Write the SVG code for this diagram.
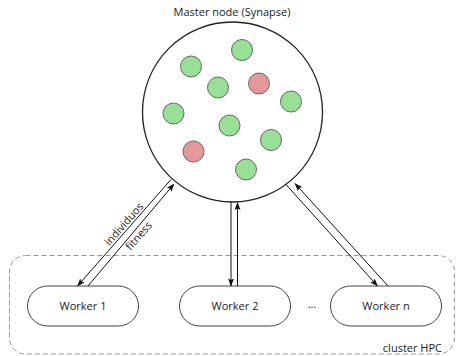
<svg xmlns="http://www.w3.org/2000/svg" width="456" height="356" viewBox="0 0 456 356">
  <style>
    .lbl { font-family: "Open Sans", "Liberation Sans", sans-serif; font-size: 11px; fill: #222; }
    .mid { text-anchor: middle; }
    .ind-g { fill: #98e095; stroke: #666; stroke-width: 1; }
    .ind-r { fill: #e59899; stroke: #666; stroke-width: 1; }
    .worker { fill: #fff; stroke: #444; stroke-width: 1; }
    .edge { stroke: #111; stroke-width: 1; fill: none; marker-end: url(#arrow); }
  </style>
  <defs>
    <marker id="arrow" viewBox="0 0 8 8" refX="7.5" refY="4" markerWidth="8" markerHeight="8" markerUnits="userSpaceOnUse" orient="auto">
      <path d="M0,1 L8,4 L0,7 L1.5,4 Z" fill="#111"/>
    </marker>
  </defs>

  <rect width="456" height="356" fill="#fff"/>

  <!-- cluster boundary -->
  <g id="cluster">
    <rect x="9.5" y="255.5" width="445" height="98.5" rx="16" fill="none" stroke="#999" stroke-width="1" stroke-dasharray="5 3"/>
    <text class="lbl" x="442" y="352" text-anchor="end">cluster HPC</text>
  </g>

  <!-- master node with population -->
  <g id="master">
    <text class="lbl mid" x="232" y="16">Master node (Synapse)</text>
    <circle cx="232.5" cy="112" r="90" fill="#fff" stroke="#222" stroke-width="1.3"/>
    <circle class="ind-g" cx="242" cy="50" r="10.5"/>
    <circle class="ind-g" cx="191" cy="66.5" r="10.5"/>
    <circle class="ind-g" cx="218" cy="87.5" r="10.5"/>
    <circle class="ind-r" cx="259" cy="83.5" r="10.5"/>
    <circle class="ind-g" cx="291" cy="101.5" r="10.5"/>
    <circle class="ind-g" cx="173.5" cy="113.5" r="10.5"/>
    <circle class="ind-g" cx="229.5" cy="125.5" r="10.5"/>
    <circle class="ind-g" cx="271" cy="140" r="10.5"/>
    <circle class="ind-r" cx="193.5" cy="151.5" r="10.5"/>
    <circle class="ind-g" cx="246" cy="169.5" r="10.5"/>
  </g>

  <!-- workers -->
  <g id="worker1">
    <rect class="worker" x="27.5" y="286" width="111" height="40" rx="20"/>
    <text class="lbl mid" x="83" y="310">Worker 1</text>
  </g>
  <g id="worker2">
    <rect class="worker" x="179.5" y="286" width="111" height="40" rx="20"/>
    <text class="lbl mid" x="235" y="310">Worker 2</text>
  </g>
  <g id="ellipsis">
    <text class="lbl mid" x="312" y="308" fill="#555">...</text>
  </g>
  <g id="workern">
    <rect class="worker" x="330.5" y="286" width="111" height="40" rx="20"/>
    <text class="lbl mid" x="386" y="310">Worker n</text>
  </g>

  <!-- connectors: individuals out, fitness back -->
  <g id="connectors">
    <line class="edge" x1="171" y1="179.5" x2="77.5" y2="286"/>
    <line class="edge" x1="88" y1="286" x2="174" y2="184"/>
    <line class="edge" x1="231" y1="201.5" x2="231" y2="286"/>
    <line class="edge" x1="237.5" y1="286" x2="237.5" y2="202.5"/>
    <line class="edge" x1="285.5" y1="184" x2="377.5" y2="286"/>
    <line class="edge" x1="388" y1="286" x2="295" y2="183.5"/>
    <text class="lbl mid" transform="translate(126.8 226.5) rotate(-48.7)">individuos</text>
    <text class="lbl mid" transform="translate(141.6 238.3) rotate(-48.7)">fitness</text>
  </g>
</svg>
